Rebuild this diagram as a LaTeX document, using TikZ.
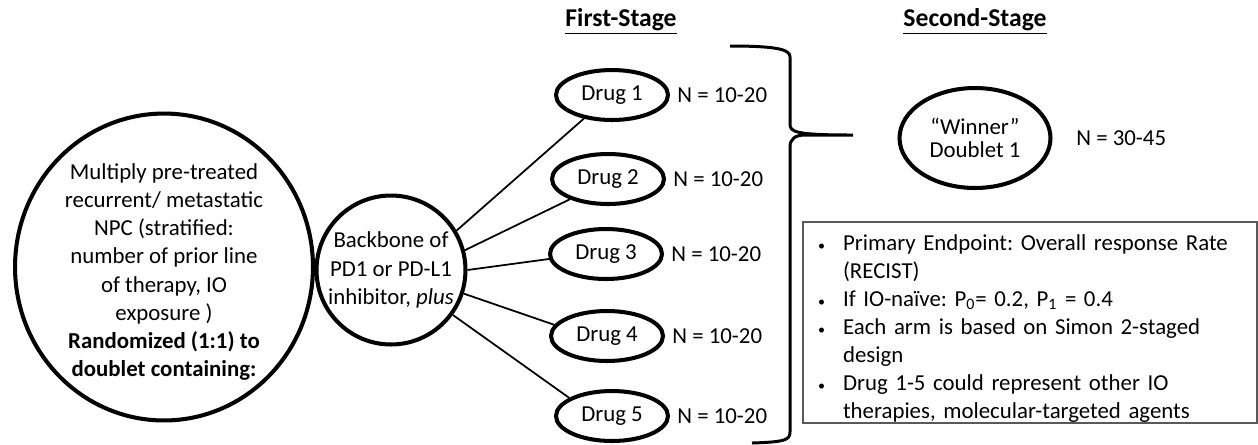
\documentclass[tikz,border=0pt]{standalone}
\usepackage{fontspec}
\setmainfont{Carlito}
\usepackage{enumitem}
\usetikzlibrary{shapes.geometric,positioning}
\frenchspacing

\begin{document}
\begin{tikzpicture}[x=0.02cm,y=-0.02cm,
  font=\fontsize{13}{16}\selectfont,
  roundnode/.style={draw, line width=2.3pt, ellipse, inner sep=0pt},
  drugnode/.style={roundnode, minimum width=2.24cm, minimum height=1.0cm},
  armline/.style={line width=1pt},
  stagehead/.style={font=\fontsize{14.6}{17}\selectfont\bfseries}]
\useasboundingbox (0,0) rectangle (1258,444);

% patients and backbone
\node[roundnode, minimum width=5.96cm, minimum height=6.14cm] (pop) at (164,267) {};
\node[align=center] (poptext) at (164,272) {Multiply pre-treated\\recurrent/ metastatic\\NPC (stratified:\\number of prior line\\of therapy, IO\\exposure )\\\textbf{Randomized (1:1) to}\\\textbf{doublet containing:}};
\node[roundnode, circle, minimum size=2.98cm, align=center] (bb) at (391,270) {Backbone of\\PD1 or PD-L1\\inhibitor, \textit{plus}};

% first stage
\node[stagehead] (first) at (621,21) {\underline{First-Stage}};
\foreach \i/\x/\y in {1/612/95, 2/608/179, 3/606/254, 4/607/336, 5/612/416} {
  \node[drugnode] (d\i) at (\x,\y) {Drug \i};
  \node[right=0.14cm of d\i, inner sep=0pt] (n\i) {N = 10-20};
}
\foreach \i/\a/\b in {1/31/220, 2/15/208, 3/0/185, 4/342/168, 5/324/157}
  \draw[armline] (bb.\a) -- (d\i.\b);

% brace
\draw[line width=1.7pt] (730,46) .. controls (780,46) and (790,50) .. (790,57) -- (790,124)
  .. controls (790,132) and (795,135) .. (853,135) -- (805,135)
  .. controls (795,135) and (790,139) .. (790,147) -- (790,432)
  .. controls (790,440) and (785,442) .. (752,443);

% second stage
\node[stagehead] (second) at (975,21) {\underline{Second-Stage}};
\node[roundnode, minimum width=3.02cm, minimum height=2.0cm, align=center, font=\fontsize{13}{13.4}\selectfont] (win) at (975,138) {“Winner”\\Doublet 1};
\node[anchor=west, inner sep=0pt] (nwin) at (1076,138) {N = 30-45};

% notes
\node[draw=black!65, line width=1.2pt, anchor=north west, inner xsep=0.24cm, inner ysep=0pt,
  text width=8.6cm, minimum height=4.02cm] (notes) at (802,221) {%
  \begin{itemize}[leftmargin=0.56cm, labelsep=0.36cm, itemsep=0pt, topsep=0pt, parsep=0pt, partopsep=0pt, label={\fontsize{8}{8}\selectfont\textbullet}]
  \item Primary Endpoint: Overall response Rate\\(RECIST)
  \item If IO-naïve: P\textsubscript{0}= 0.2, P\textsubscript{1} = 0.4
  \item Each arm is based on Simon 2-staged\\design
  \item Drug 1-5 could represent other IO\\therapies, molecular-targeted agents
  \end{itemize}};
\end{tikzpicture}
\end{document}
